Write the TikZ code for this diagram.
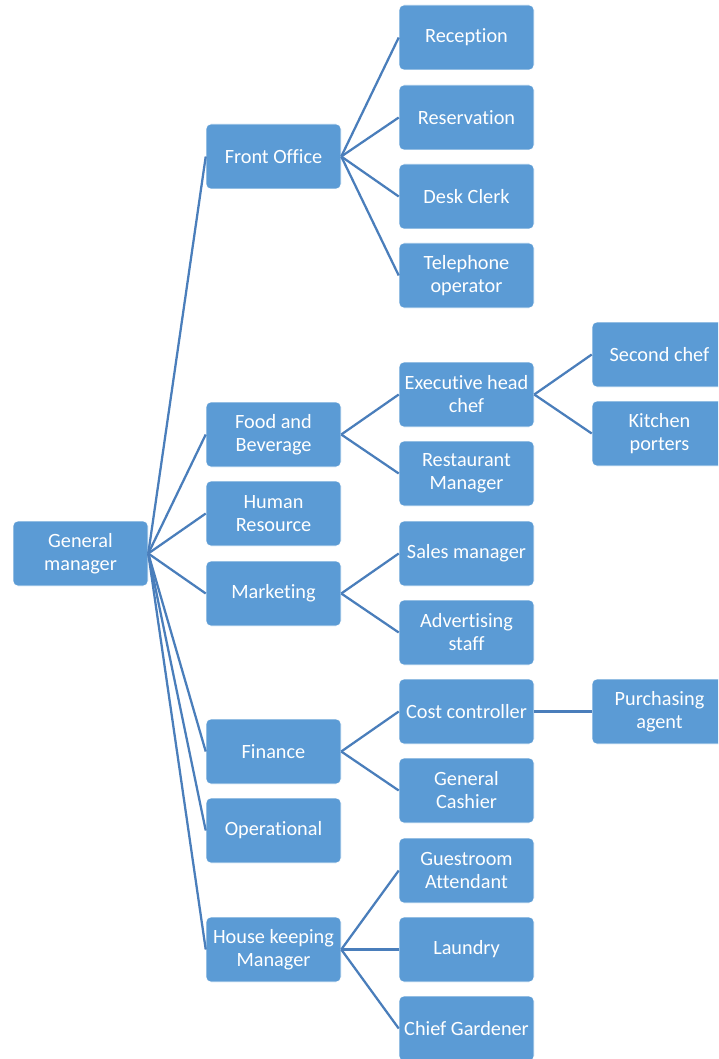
\documentclass[tikz,border=0pt]{standalone}
\usepackage{fontspec}
\setmainfont[Ligatures={NoCommon}]{Carlito}
\usepackage{tikz}
\usetikzlibrary{calc}

\definecolor{boxblue}{RGB}{91,155,213}
\definecolor{lineblue}{RGB}{74,126,187}

\tikzset{
  unit/.style={rectangle, rounded corners=3.75pt, fill=boxblue, draw=white, line width=0.4pt,
    minimum width=101.25pt, minimum height=48.75pt, inner sep=0pt, align=center,
    text=white, font=\fontsize{15.2}{17.25}\selectfont},
  link/.style={draw=lineblue, line width=1.7pt}
}

\begin{document}
\begin{tikzpicture}[x=0.75pt,y=0.75pt,yscale=-1,xscale=1]
  \useasboundingbox (0,0) rectangle (718,1059);
  \clip (0,0) rectangle (718,1059);

  % Level 1
  \node [unit] (gm) at (80.5,553.5) {General\\manager};

  % Level 2
  \node [unit] (fo) at (273.5,156.5) {Front Office};
  \node [unit] (fb) at (273.5,434.5) {Food and\\Beverage};
  \node [unit] (hr) at (273.5,513.5) {Human\\Resource};
  \node [unit] (mk) at (273.5,593.5) {Marketing};
  \node [unit] (fi) at (273.5,751.5) {Finance};
  \node [unit] (op) at (273.5,830.5) {Operational};
  \node [unit] (hk) at (273.5,949.5) {House keeping\\Manager};

  % Level 3
  \node [unit] (rc) at (466.5,37.5) {Reception};
  \node [unit] (rv) at (466.5,117.5) {Reservation};
  \node [unit] (dc) at (466.5,196.5) {Desk Clerk};
  \node [unit] (to) at (466.5,275.5) {Telephone\\operator};
  \node [unit] (eh) at (466.5,394.5) {Executive head\\chef};
  \node [unit] (rm) at (466.5,473.5) {Restaurant\\Manager};
  \node [unit] (sm) at (466.5,553.5) {Sales manager};
  \node [unit] (as) at (466.5,632.5) {Advertising\\staff};
  \node [unit] (cc) at (466.5,711.5) {Cost controller};
  \node [unit] (gc) at (466.5,790.5) {General\\Cashier};
  \node [unit] (ga) at (466.5,870.5) {Guestroom\\Attendant};
  \node [unit] (la) at (466.5,949.5) {Laundry};
  \node [unit] (cg) at (466.5,1028.5) {Chief Gardener};

  % Level 4
  \node [unit] (sc) at (659.5,354.5) {Second chef};
  \node [unit] (kp) at (659.5,433.5) {Kitchen\\porters};
  \node [unit] (pa) at (659.5,711.5) {Purchasing\\agent};

  % Connectors
  \foreach \c in {fo,fb,hr,mk,fi,op,hk}
    \draw [link] (gm.east) -- (\c.west);
  \foreach \c in {rc,rv,dc,to}
    \draw [link] (fo.east) -- (\c.west);
  \foreach \c in {eh,rm}
    \draw [link] (fb.east) -- (\c.west);
  \foreach \c in {sm,as}
    \draw [link] (mk.east) -- (\c.west);
  \foreach \c in {cc,gc}
    \draw [link] (fi.east) -- (\c.west);
  \foreach \c in {ga,la,cg}
    \draw [link] (hk.east) -- (\c.west);
  \foreach \c in {sc,kp}
    \draw [link] (eh.east) -- (\c.west);
  \draw [link] (cc.east) -- (pa.west);
\end{tikzpicture}
\end{document}
